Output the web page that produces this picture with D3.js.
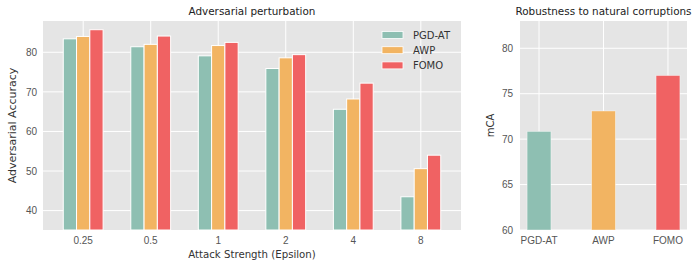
<!DOCTYPE html>
<html>
<head>
<meta charset="utf-8">
<script src="https://cdn.jsdelivr.net/npm/d3@7"></script>
<style>
  body { margin: 0; background: #fff; }
  svg { font-family: "DejaVu Sans", sans-serif; }
  .tick text { fill: #555; font-size: 10px; }
</style>
</head>
<body>
<div id="chart"></div>
<script>
const epsilons = ["0.25", "0.5", "1", "2", "4", "8"];
const methods = ["PGD-AT", "AWP", "FOMO"];
const colors = ["#8ebfb2", "#f2b462", "#f06263"];
const pgdAt = [83.4, 81.4, 79.1, 75.9, 65.6, 43.5];
const awp = [84.0, 82.0, 81.7, 78.6, 68.2, 50.6];
const fomo = [85.7, 84.1, 82.5, 79.4, 72.2, 54.0];
const advTicks = [40, 50, 60, 70, 80];
const mcaValues = [70.85, 73.1, 77.0];
const mcaTicks = [60, 65, 70, 75, 80];

const width = 700, height = 268;
const svg = d3.select("#chart").append("svg")
  .attr("width", width).attr("height", height);

// left panel
const L = { x0: 43, x1: 461, y0: 21, y1: 230 };
const series = [pgdAt, awp, fomo];
const x0 = d3.scaleBand().domain(epsilons).range([L.x0, L.x1]).paddingInner(0.41).paddingOuter(0.3);
const x1 = d3.scaleBand().domain(methods).range([0, x0.bandwidth()]);
const yL = d3.scaleLinear().domain([35.1, 87.9]).range([L.y1, L.y0]);

const gL = svg.append("g");
gL.append("rect").attr("x", L.x0).attr("y", L.y0)
  .attr("width", L.x1 - L.x0).attr("height", L.y1 - L.y0).attr("fill", "#e5e5e5");

gL.append("g").selectAll("line.h").data(advTicks).join("line")
  .attr("x1", L.x0).attr("x2", L.x1)
  .attr("y1", d => yL(d)).attr("y2", d => yL(d))
  .attr("stroke", "#fff").attr("stroke-width", 1);
gL.append("g").selectAll("line.v").data(epsilons).join("line")
  .attr("x1", d => x0(d) + x0.bandwidth() / 2).attr("x2", d => x0(d) + x0.bandwidth() / 2)
  .attr("y1", L.y0).attr("y2", L.y1)
  .attr("stroke", "#fff").attr("stroke-width", 1);

methods.forEach((m, mi) => {
  gL.append("g").selectAll("rect").data(series[mi]).join("rect")
    .attr("x", (d, i) => x0(epsilons[i]) + x1(m))
    .attr("width", x1.bandwidth())
    .attr("y", d => yL(d))
    .attr("height", d => L.y1 - yL(d))
    .attr("fill", colors[mi])
    .attr("stroke", "#fff").attr("stroke-width", 1);
});

const axL = gL.append("g").attr("transform", `translate(${L.x0},0)`)
  .call(d3.axisLeft(yL).tickValues(advTicks).tickSize(0).tickPadding(6));
axL.select(".domain").remove();
const axB = gL.append("g").attr("transform", `translate(0,${L.y1})`)
  .call(d3.axisBottom(x0).tickSize(0).tickPadding(7));
axB.select(".domain").remove();

gL.append("text").attr("x", (L.x0 + L.x1) / 2).attr("y", 15)
  .attr("text-anchor", "middle").attr("font-size", 10.4).attr("fill", "#222")
  .text("Adversarial perturbation");
gL.append("text").attr("x", (L.x0 + L.x1) / 2).attr("y", 258)
  .attr("text-anchor", "middle").attr("font-size", 10.2).attr("fill", "#333")
  .text("Attack Strength (Epsilon)");
gL.append("text").attr("transform", `translate(16,${(L.y0 + L.y1) / 2}) rotate(-90)`)
  .attr("text-anchor", "middle").attr("font-size", 11).attr("fill", "#333")
  .text("Adversarial Accuracy");

// legend
const lg = gL.append("g").attr("transform", "translate(382,35)");
methods.forEach((m, i) => {
  lg.append("rect").attr("x", 0).attr("y", i * 15.2 - 3.5)
    .attr("width", 21).attr("height", 7).attr("fill", colors[i])
    .attr("stroke", "#fff").attr("stroke-width", 0.8);
  lg.append("text").attr("x", 31).attr("y", i * 15.2 + 3.8)
    .attr("font-size", 10).attr("fill", "#333").text(m);
});

// right panel
const R = { x0: 520, x1: 687, y0: 21, y1: 230 };
const xR = d3.scaleBand().domain(methods).range([R.x0, R.x1]).paddingInner(0.63).paddingOuter(0.11);
const yR = d3.scaleLinear().domain([60, 83]).range([R.y1, R.y0]);
const gR = svg.append("g");
gR.append("rect").attr("x", R.x0).attr("y", R.y0)
  .attr("width", R.x1 - R.x0).attr("height", R.y1 - R.y0).attr("fill", "#e5e5e5");
gR.append("g").selectAll("line").data(mcaTicks).join("line")
  .attr("x1", R.x0).attr("x2", R.x1)
  .attr("y1", d => yR(d)).attr("y2", d => yR(d))
  .attr("stroke", "#fff").attr("stroke-width", 1);
gR.append("g").selectAll("line").data(methods).join("line")
  .attr("x1", d => xR(d) + xR.bandwidth() / 2).attr("x2", d => xR(d) + xR.bandwidth() / 2)
  .attr("y1", R.y0).attr("y2", R.y1)
  .attr("stroke", "#fff").attr("stroke-width", 1);
gR.append("g").selectAll("rect").data(mcaValues).join("rect")
  .attr("x", (d, i) => xR(methods[i]))
  .attr("width", xR.bandwidth())
  .attr("y", d => yR(d))
  .attr("height", d => R.y1 - yR(d))
  .attr("fill", (d, i) => colors[i])
  .attr("stroke", "rgba(255,255,255,0.5)").attr("stroke-width", 0.8);

const axRL = gR.append("g").attr("transform", `translate(${R.x0},0)`)
  .call(d3.axisLeft(yR).tickValues(mcaTicks).tickSize(0).tickPadding(7));
axRL.select(".domain").remove();
const axRB = gR.append("g").attr("transform", `translate(0,${R.y1})`)
  .call(d3.axisBottom(xR).tickSize(0).tickPadding(7));
axRB.select(".domain").remove();

gR.append("text").attr("x", (R.x0 + R.x1) / 2).attr("y", 15)
  .attr("text-anchor", "middle").attr("font-size", 10.4).attr("fill", "#222")
  .text("Robustness to natural corruptions");
gR.append("text").attr("transform", `translate(494,${(R.y0 + R.y1) / 2}) rotate(-90)`)
  .attr("text-anchor", "middle").attr("font-size", 10).attr("fill", "#333")
  .text("mCA");
</script>
</body>
</html>
